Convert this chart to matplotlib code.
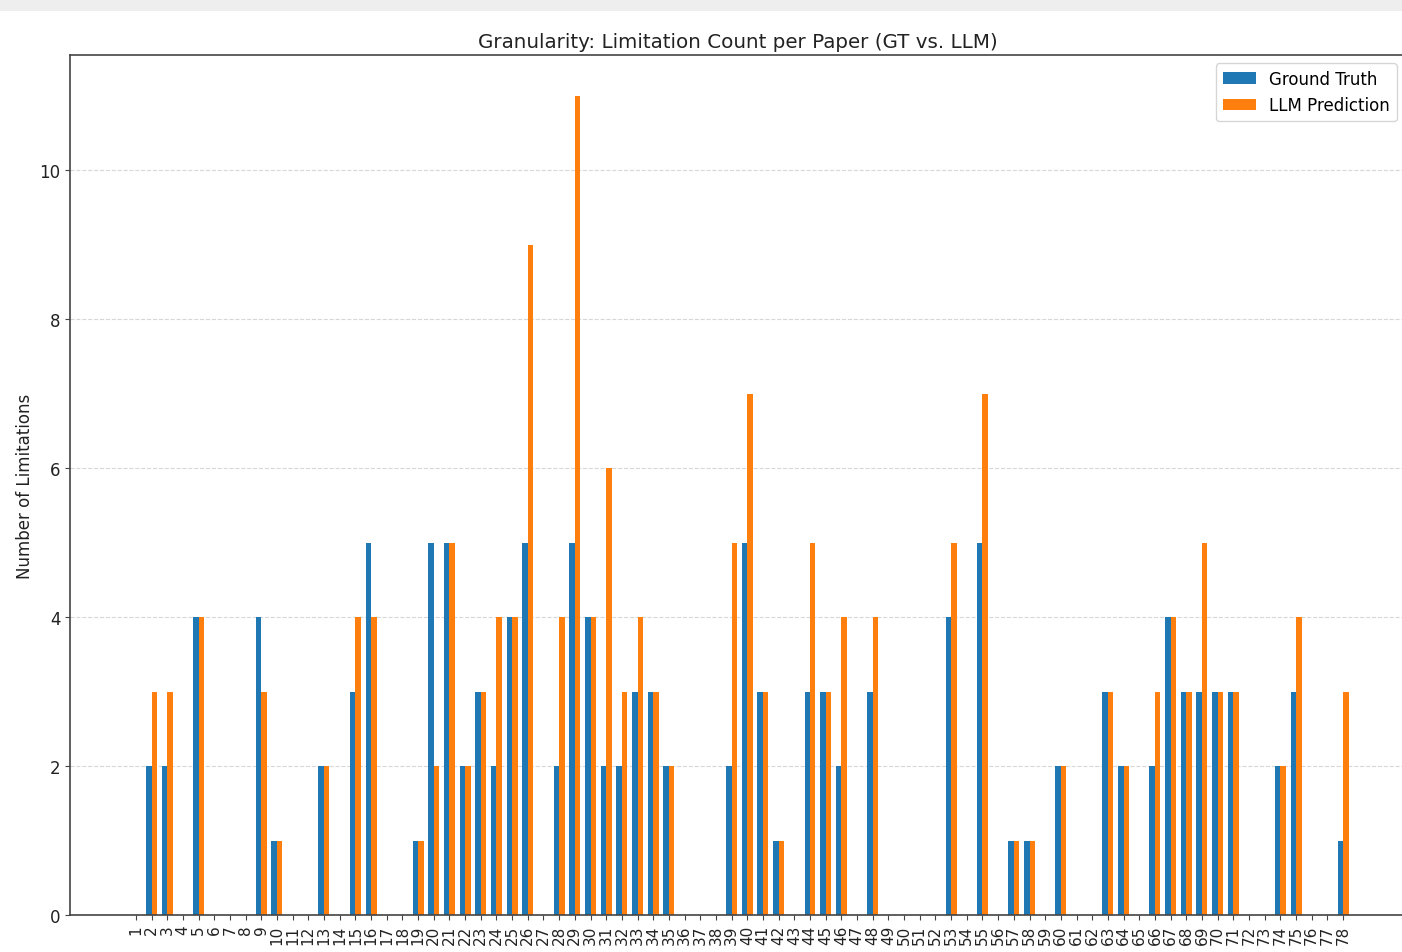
import matplotlib
matplotlib.use("Agg")
import matplotlib.pyplot as plt
import numpy as np
from matplotlib.patches import Rectangle

papers = [str(i) for i in range(1, 79)]
ground_truth = [0, 2, 2, 0, 4, 0, 0, 0, 4, 1,
                0, 0, 2, 0, 3, 5, 0, 0, 1, 5,
                5, 2, 3, 2, 4, 5, 0, 2, 5, 4,
                2, 2, 3, 3, 2, 0, 0, 0, 2, 5,
                3, 1, 0, 3, 3, 2, 0, 3, 0, 0,
                0, 0, 4, 0, 5, 0, 1, 1, 0, 2,
                0, 0, 3, 2, 0, 2, 4, 3, 3, 3,
                3, 0, 0, 2, 3, 0, 0, 1]
llm_prediction = [0, 3, 3, 0, 4, 0, 0, 0, 3, 1,
                  0, 0, 2, 0, 4, 4, 0, 0, 1, 2,
                  5, 2, 3, 4, 4, 9, 0, 4, 11, 4,
                  6, 3, 4, 3, 2, 0, 0, 0, 5, 7,
                  3, 1, 0, 5, 3, 4, 0, 4, 0, 0,
                  0, 0, 5, 0, 7, 0, 1, 1, 0, 2,
                  0, 0, 3, 2, 0, 3, 4, 3, 5, 3,
                  3, 0, 0, 2, 4, 0, 0, 3]

W, H = 1402, 953
fig = plt.figure(figsize=(W / 100, H / 100), dpi=100)
fig.patches.append(Rectangle((0, 1 - 12 / H), 1, 12 / H, transform=fig.transFigure,
                             facecolor="#eeeeee", edgecolor="none", zorder=0))

ax = fig.add_axes([70 / W, (H - 916) / H, (1405 - 70) / W, (916 - 56) / H])
x = np.arange(len(papers))
w = 0.35
ax.bar(x - w / 2, ground_truth, w, color="#1f77b4", label="Ground Truth")
ax.bar(x + w / 2, llm_prediction, w, color="#ff7f0e", label="LLM Prediction")

ax.set_xticks(x)
ax.set_xticklabels(papers, rotation=90, fontsize=11)
ax.set_xlim(-4.2, 80.95)
ax.set_ylim(0, 11.55)
ax.set_yticks([0, 2, 4, 6, 8, 10])
ax.tick_params(axis="y", labelsize=12)
ax.tick_params(axis="both", color="#444444", labelcolor="#222222")
ax.set_ylabel("Number of Limitations", fontsize=12, color="#222222")
ax.set_title("Granularity: Limitation Count per Paper (GT vs. LLM)", fontsize=14.3,
             color="#222222")
for s in ax.spines.values():
    s.set_color("#444444")
    s.set_linewidth(1.2)
ax.yaxis.grid(True, linestyle="--", alpha=0.5)
ax.set_axisbelow(True)
ax.legend(loc="upper right", fontsize=12)

fig.savefig("out.png", dpi=100)
